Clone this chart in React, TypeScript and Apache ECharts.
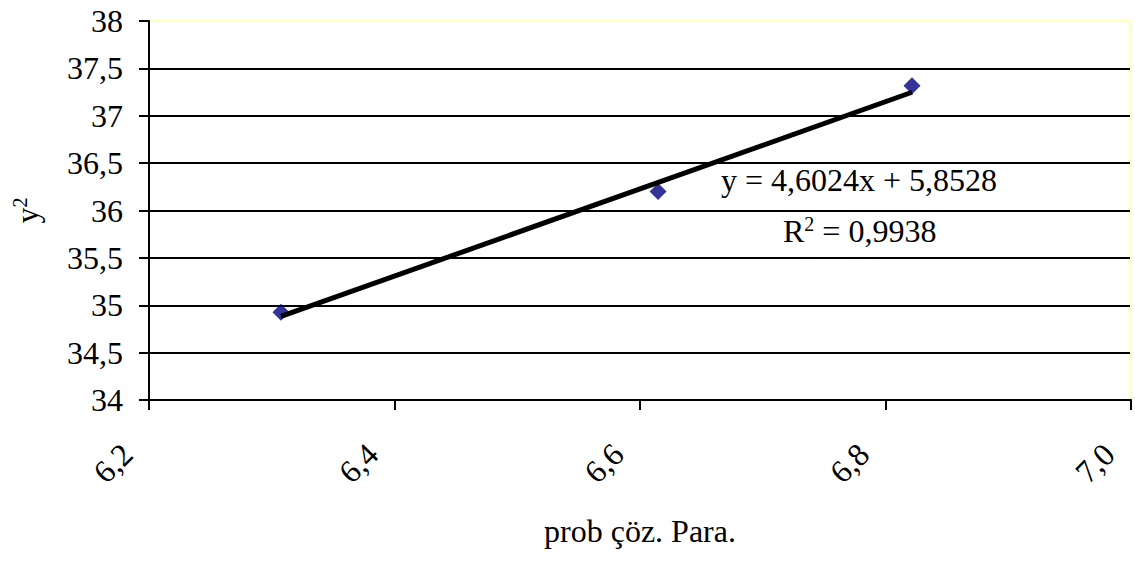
import React, { useEffect, useRef } from "react";
import * as echarts from "echarts";

const pointsX = [6.3075, 6.6147, 6.8216];
const pointsY = [34.926, 36.2, 37.316];
const trendX = [6.3075, 6.8216];
const trendY = [34.882, 37.248];
const equationText = "y = 4,6024x + 5,8528";
const r2Label = "R";
const r2Sup = "2";
const r2Value = " = 0,9938";
const xTitle = "prob çöz. Para.";
const yTitle = "y";
const yTitleSup = "2";

const FONT = "'Liberation Serif', 'Times New Roman', serif";

export default function App() {
  const ref = useRef<HTMLDivElement>(null);
  useEffect(() => {
    if (!ref.current) return;
    const chart = echarts.init(ref.current, null, { renderer: "svg" });
    const yellow = "#ffffb8";
    chart.setOption({
      animation: false,
      backgroundColor: "#ffffff",
      grid: { left: 149, top: 21, right: 4, bottom: 161 },
      xAxis: {
        type: "value",
        min: 6.2,
        max: 7.0,
        interval: 0.2,
        name: xTitle,
        nameLocation: "middle",
        nameGap: 115,
        nameTextStyle: { fontFamily: FONT, fontSize: 32, color: "#000" },
        axisLine: { show: true, lineStyle: { color: "#000", width: 2 } },
        axisTick: { show: true, length: 10, lineStyle: { color: "#000", width: 2 } },
        axisLabel: {
          rotate: 45,
          margin: 27,
          padding: [0, 31, 0, 0],
          fontFamily: FONT,
          fontSize: 32,
          color: "#000",
          formatter: (v: number) => v.toFixed(1).replace(".", ","),
        },
        splitLine: {
          show: true,
          lineStyle: {
            color: ["transparent", "transparent", "transparent", "transparent", yellow],
            width: 2,
          },
        },
      },
      yAxis: {
        type: "value",
        min: 34,
        max: 38,
        interval: 0.5,
        name: `{a|${yTitle}}{b|${yTitleSup}}`,
        nameLocation: "middle",
        nameGap: 105,
        nameRotate: 90,
        nameTextStyle: {
          fontFamily: FONT,
          color: "#000",
          rich: {
            a: { fontFamily: FONT, fontSize: 32, color: "#000" },
            b: { fontFamily: FONT, fontSize: 20, color: "#000", verticalAlign: "top", padding: [0, 0, 14, 0] },
          },
        },
        axisLine: { show: true, lineStyle: { color: "#000", width: 2 } },
        axisTick: { show: true, length: 10, lineStyle: { color: "#000", width: 2 } },
        axisLabel: {
          margin: 26,
          fontFamily: FONT,
          fontSize: 32,
          color: "#000",
          formatter: (v: number) => String(v).replace(".", ","),
        },
        splitLine: {
          show: true,
          lineStyle: {
            color: ["#000", "#000", "#000", "#000", "#000", "#000", "#000", "#000", yellow],
            width: 2,
          },
        },
      },
      series: [
        {
          type: "scatter",
          data: pointsX.map((x, i) => [x, pointsY[i]]),
          symbol: "diamond",
          symbolSize: 17,
          itemStyle: { color: "#000080" },
          z: 2,
        },
        {
          type: "line",
          data: trendX.map((x, i) => [x, trendY[i]]),
          symbol: "none",
          lineStyle: { color: "#000", width: 5 },
          z: 3,
        },
      ],
      graphic: [
        {
          type: "text",
          left: 721,
          top: 164,
          style: { text: equationText, font: `32px ${FONT}`, fill: "#000" },
        },
        {
          type: "text",
          left: 783,
          top: 214,
          style: {
            text: `{a|${r2Label}}{b|${r2Sup}}{a|${r2Value}}`,
            fill: "#000",
            rich: {
              a: { fontFamily: FONT, fontSize: 32, color: "#000" },
              b: { fontFamily: FONT, fontSize: 20, color: "#000", verticalAlign: "top", padding: [0, 0, 14, 0] },
            },
          },
        },
      ],
    });
    return () => chart.dispose();
  }, []);
  return (
    <div
      ref={ref}
      style={{ position: "absolute", left: 0, top: 0, width: 1135, height: 561 }}
    />
  );
}
